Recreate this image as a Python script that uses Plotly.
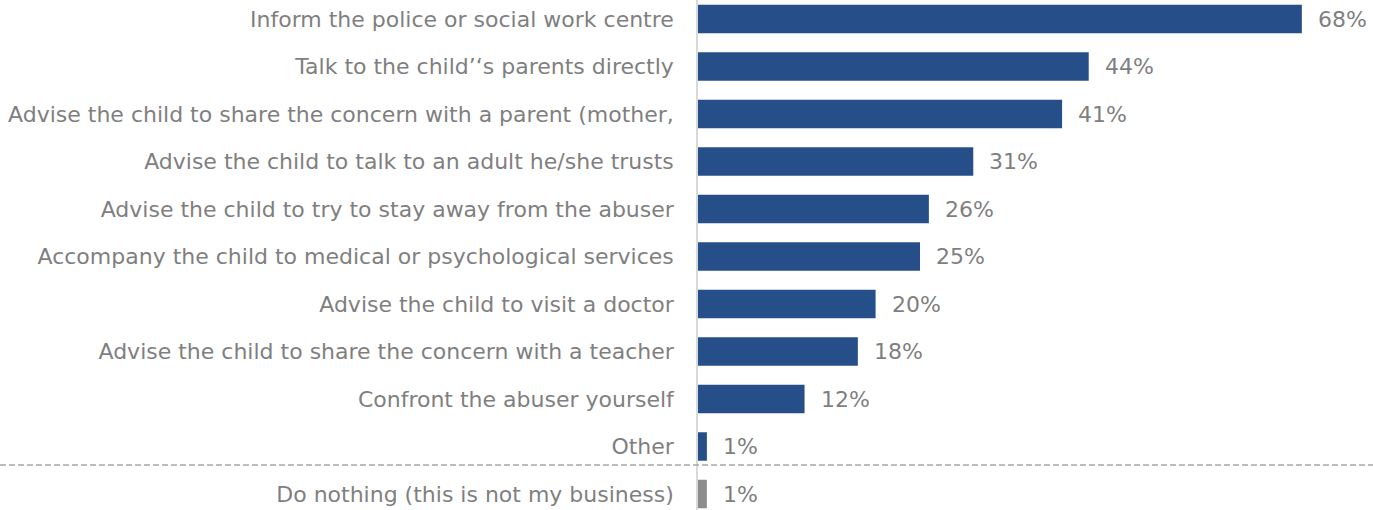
import plotly.graph_objects as go

# Survey responses: what respondents would do if a child told them about abuse
categories = [
    "Inform the police or social work centre",
    "Talk to the child\u2019\u2018s parents directly",
    "Advise the child to share the concern with a parent (mother,",
    "Advise the child to talk to an adult he/she trusts",
    "Advise the child to try to stay away from the abuser",
    "Accompany the child to medical or psychological services",
    "Advise the child to visit a doctor",
    "Advise the child to share the concern with a teacher",
    "Confront the abuser yourself",
    "Other",
    "Do nothing (this is not my business)",
]
values = [68, 44, 41, 31, 26, 25, 20, 18, 12, 1, 1]
value_labels = [f"{v}%" for v in values]
bar_colors = ["#264f8a"] * 10 + ["#8c8c8c"]

FONT = "DejaVu Sans"
TEXT_GREY = "#7f7f7f"

positions = list(range(len(categories)))

fig = go.Figure()
fig.add_trace(go.Bar(
    x=values,
    y=positions,
    orientation="h",
    marker=dict(color=bar_colors, line=dict(width=0)),
    width=0.6,
    hoverinfo="skip",
))

# Percentage labels to the right of each bar
for pos, v, lab in zip(positions, values, value_labels):
    fig.add_annotation(
        x=v, y=pos, text=lab, showarrow=False,
        xanchor="left", yanchor="middle", xshift=14,
        font=dict(family=FONT, size=22, color=TEXT_GREY),
    )

# Dashed separator above the "do nothing" answer, across the full width
fig.add_shape(
    type="line", xref="paper", yref="y",
    x0=-698 / 675, x1=1.0, y0=9.39, y1=9.39,
    line=dict(color="#a6a6a6", width=1.5, dash="6px,3px"),
)

fig.update_layout(
    width=1373, height=510,
    margin=dict(l=698, r=0, t=0, b=0),
    paper_bgcolor="white", plot_bgcolor="white",
    showlegend=False,
    bargap=0.4,
    xaxis=dict(
        range=[0, 675 / 8.88],
        visible=False,
        fixedrange=True,
    ),
    yaxis=dict(
        range=[(510 - 19) / 47.5, -19 / 47.5],
        tickvals=positions,
        ticktext=categories,
        tickfont=dict(family=FONT, size=22, color=TEXT_GREY),
        ticks="outside", ticklen=18, tickcolor="rgba(0,0,0,0)",
        showline=True, linecolor="#d9d9d9", linewidth=1.5,
        showgrid=False, zeroline=False,
        automargin=False,
    ),
)

fig.write_html("out.html")
